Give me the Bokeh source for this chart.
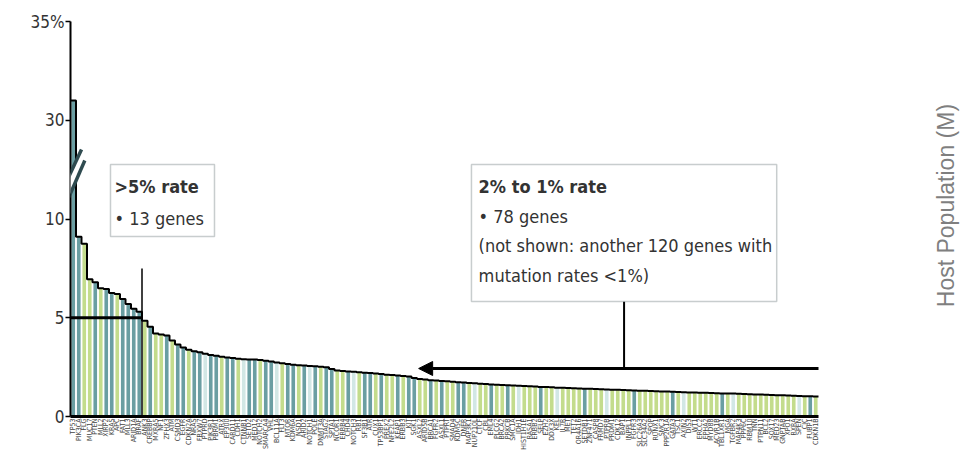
import math
from bokeh.plotting import figure
from bokeh.models import Range1d, FixedTicker, Label, Arrow, NormalHead, PolyAnnotation, BoxAnnotation
from bokeh.embed import file_html
from bokeh.resources import INLINE

# ---------------- data ----------------
genes = [
    "TP53", "PIK3CA", "FLG", "MUC17", "PTEN", "MLL2", "XIRP2", "KRAS", "APC", "FAT1", "MLL3", "ARID1A", "BRAF",
    "ANK3", "CREBBP", "MXRA5", "NF1", "ZFHX3", "ATM", "CSMD3", "EGFR", "CDKN2A", "NRAS", "FBXW7", "PTPRD", "PIK3R1",
    "PBRM1", "ATRX", "EP300", "CARD11", "CDH1", "CTNNB1", "SETD2", "MED12", "NOTCH2", "SMARCA4", "VHL", "BCL11A", "FLT3",
    "MTOR", "KDM6A", "NSD1", "ARID2", "NOTCH1", "POLE", "DNMT3A", "STAG2", "SPTA1", "NCOR1", "ERBB4", "CHD4", "NOTCH3",
    "RB1", "SF3B1", "ATR", "CUX1", "TP53BP1", "PREX2", "NFE2L2", "KEAP1", "ERBB3", "KIT", "SGK1", "ASXL2", "ARID5B",
    "BRCA1", "FGFR2", "ASXL1", "PTPRT", "SMAD4", "KDM5C", "DNER", "MAP3K1", "NUP210L", "CTCF", "CBL", "EML4", "PLCG2",
    "BRCA2", "PRKCB", "SMC1A", "IDH1", "HIST1H1E", "RASA1", "ERBB2", "SELP", "EZH2", "DDX3X", "KEL", "IL7R", "MET",
    "TET2", "OR4A16", "SETDB1", "ZNF471", "CASP8", "FRMD7", "PTPRB", "PRDM1", "CDK12", "BAP1", "INPPL1", "FGFR3",
    "SLC26A3", "SLC34A2", "SPOP", "RUNX1", "SMC3", "PPP2R1A", "GATA3", "TSC1", "AXIN2", "DIS3", "WT1", "ERCC2", "EPHA2",
    "MYD88", "ACVR1B", "TBL1XR1", "MGA", "TGFBR2", "MAP4K3", "PPP6C", "RBM10", "TNN", "PTPN11", "BCL2", "SOX17",
    "MED23", "GNPTAB", "XPO1", "RXRA", "SPEN", "CIC", "FUBP1", "CDKN1B",
]

rates = [
    31.0, 9.1, 8.75, 6.95, 6.8, 6.5, 6.45, 6.25, 6.2, 5.95, 5.7, 5.45, 5.3,
    4.85, 4.55, 4.2, 4.15, 4.1, 3.85, 3.65, 3.5, 3.38, 3.3, 3.25, 3.18, 3.12,
    3.08, 3.03, 2.99, 2.96, 2.92, 2.9, 2.89, 2.88, 2.86, 2.82, 2.78, 2.74, 2.7,
    2.66, 2.62, 2.6, 2.58, 2.56, 2.54, 2.52, 2.5, 2.4, 2.33, 2.3, 2.28, 2.26,
    2.24, 2.22, 2.2, 2.18, 2.15, 2.12, 2.1, 2.08, 2.05, 2.02, 1.95, 1.9, 1.87,
    1.84, 1.82, 1.8, 1.78, 1.76, 1.74, 1.72, 1.7, 1.68, 1.66, 1.64, 1.62, 1.61,
    1.6, 1.58, 1.57, 1.56, 1.54, 1.53, 1.52, 1.5, 1.49, 1.48, 1.46, 1.45, 1.44,
    1.43, 1.42, 1.41, 1.4, 1.39, 1.38, 1.37, 1.36, 1.35, 1.34, 1.33, 1.32,
    1.31, 1.3, 1.29, 1.28, 1.27, 1.26, 1.25, 1.24, 1.23, 1.22, 1.21, 1.2, 1.2,
    1.19, 1.18, 1.17, 1.16, 1.16, 1.15, 1.14, 1.13, 1.12, 1.11, 1.1, 1.09, 1.08,
    1.07, 1.06, 1.05, 1.04, 1.03, 1.02, 1.01,
]

# T = teal, G = green, L = pale
bar_kinds = list(
    "TTGGTGTTGTTTT"
    "GTGGTGTTGTTLT"
    "TGTTGLTTGTTLG"
    "TTGTLTGTTGGTL"
    "GTTGTGGTGTTGG"
    "TGTGGTTGLGGTG"
    "GTGLGGGTGGLGG"
    "GGTGGGLGGGGTG"
    "GGGGGTGLGGGGG"
    "GTGLGGGGGGGGG"
    "GGLGTG"
)

y_tick_values = [0, 5, 10, 30, 35]
y_tick_labels = ["0", "5", "10", "30", "35%"]
BREAK_LOW, BREAK_HIGH = 15, 30   # display 15 == real 30 (axis break)
HIGH_CUT = 5.0                   # ">5% rate" threshold
N_HIGH = 13
LOW_CUT_INDEX = 63.8             # position where rates fall under 2%

# ---------------- helpers ----------------
def disp(v):
    return v - (BREAK_HIGH - BREAK_LOW) if v > BREAK_LOW else v

palette = {"T": "#6a9ea2", "G": "#c3dc8c", "L": "#d2e7e5"}
narrow = "DejaVu Sans Condensed"
n = len(rates)
xs = list(range(1, n + 1))
tops = [disp(v) for v in rates]
colors = [palette[k] for k in bar_kinds]

PX_PER_BAR = 5.5
FRAME_W = 895
x_end = 0.5 + FRAME_W / PX_PER_BAR

p = figure(frame_width=FRAME_W, frame_height=395, x_range=Range1d(0.5, x_end), y_range=Range1d(0, disp(35)),
           output_backend="svg", toolbar_location=None,
           min_border_left=70, min_border_right=0, min_border_top=21, min_border_bottom=30)
p.outline_line_color = None
p.xgrid.visible = False
p.ygrid.visible = False

p.vbar(x=xs, top=tops, bottom=0, width=0.66, fill_color=colors, line_color=None)

edges = [x - 0.5 for x in xs] + [n + 0.5]
p.step(x=edges, y=tops + [tops[-1]], mode="after", line_color="black", line_width=2)

# axes
p.yaxis.ticker = FixedTicker(ticks=[disp(v) for v in y_tick_values])
p.yaxis.major_label_overrides = {disp(v): l for v, l in zip(y_tick_values, y_tick_labels)}
p.yaxis.axis_line_width = 2
p.yaxis.axis_line_color = "black"
p.yaxis.major_tick_out = 5
p.yaxis.major_tick_in = 0
p.yaxis.major_tick_line_width = 1.5
p.yaxis.minor_tick_line_color = None
p.yaxis.major_label_text_font = narrow
p.yaxis.major_label_text_font_size = "17px"
p.yaxis.major_label_text_color = "#333333"
p.yaxis.major_label_standoff = 1

p.xaxis.ticker = FixedTicker(ticks=xs)
p.xaxis.bounds = (0.5, n + 0.5)
p.xaxis.major_label_overrides = {x: g for x, g in zip(xs, genes)}
p.xaxis.major_label_orientation = math.pi / 2
p.xaxis.axis_line_width = 3
p.xaxis.axis_line_color = "black"
p.xaxis.major_tick_out = 0
p.xaxis.major_tick_in = 0
p.xaxis.minor_tick_line_color = None
p.xaxis.major_label_text_font = narrow
p.xaxis.major_label_text_font_size = "7px"
p.xaxis.major_label_text_color = "#444444"
p.xaxis.major_label_standoff = 2

# threshold lines
p.line(x=[0.5, N_HIGH + 0.5], y=[HIGH_CUT, HIGH_CUT], line_color="black", line_width=3)
p.line(x=[N_HIGH + 0.5, N_HIGH + 0.5], y=[-0.2, 7.5], line_color="black", line_width=1.5)

# axis break
brk_a = ((-0.41, 11.78), (2.5, 13.52))
brk_b = ((0.19, 11.1), (3.1, 12.96))
p.add_layout(PolyAnnotation(xs=[brk_a[0][0], brk_a[1][0], brk_b[1][0], brk_b[0][0]],
                            ys=[brk_a[0][1], brk_a[1][1], brk_b[1][1], brk_b[0][1]],
                            fill_color="white", fill_alpha=1, line_color=None))
for (a, b) in (brk_a, brk_b):
    p.add_layout(Arrow(end=None, x_start=a[0], y_start=a[1], x_end=b[0], y_end=b[1],
                       line_color="#2f4b50", line_width=3.5))

# annotation boxes
box_style = dict(fill_color="white", fill_alpha=1, line_color="#4a5a5e", line_width=1.5)
p.add_layout(BoxAnnotation(left=7.77, right=26.68, top=12.76, bottom=9.11, **box_style))
p.add_layout(BoxAnnotation(left=73.4, right=128.9, top=12.76, bottom=5.82, **box_style))

txt = dict(text_font=narrow, text_font_size="18px", text_color="#333333", text_baseline="middle")
p.add_layout(Label(x=8.5, y=11.65, text=">5% rate", text_font_style="bold", **txt))
p.add_layout(Label(x=8.5, y=10.03, text="\u2022 13 genes", **txt))
p.add_layout(Label(x=74.7, y=11.65, text="2% to 1% rate", text_font_style="bold", **txt))
p.add_layout(Label(x=74.7, y=10.13, text="\u2022 78 genes", **txt))
p.add_layout(Label(x=74.7, y=8.66, text="(not shown: another 120 genes with", **txt))
p.add_layout(Label(x=74.7, y=7.14, text="mutation rates <1%)", **txt))

# connector + arrow
p.line(x=[101.15, 101.15], y=[5.82, 2.43], line_color="black", line_width=2)
p.add_layout(Arrow(end=NormalHead(size=14, fill_color="black", line_color="black"),
                   x_start=n + 0.5, y_start=2.43, x_end=LOW_CUT_INDEX, y_end=2.43,
                   line_color="black", line_width=3))

# right side label (inside the widened frame)
p.add_layout(Label(x=159.6, y=10.68, text="Host Population (M)", angle=math.pi / 2,
                   text_align="center", text_baseline="middle", text_font="Liberation Sans",
                   text_font_size="23px", text_color="#7f7f7f"))

open("out.html", "w").write(file_html(p, INLINE))
